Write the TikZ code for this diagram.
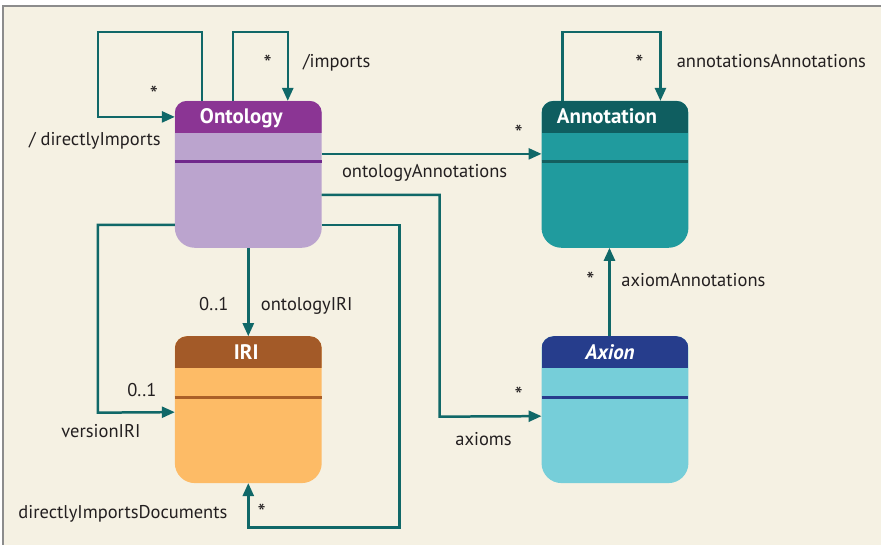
\documentclass[tikz,border=0pt]{standalone}
\usepackage{fontspec}
\setmainfont{PT Sans}
\usetikzlibrary{arrows.meta, positioning, calc}
\definecolor{bgcream}{RGB}{245,241,227}
\definecolor{framegrey}{RGB}{140,140,140}
\definecolor{linkteal}{RGB}{16,104,104}
\definecolor{labelgrey}{RGB}{35,31,32}
\definecolor{ontohead}{RGB}{139,53,148}
\definecolor{ontobody}{RGB}{187,164,206}
\definecolor{ontorule}{RGB}{112,40,140}
\definecolor{annohead}{RGB}{15,94,96}
\definecolor{annobody}{RGB}{32,155,158}
\definecolor{annorule}{RGB}{20,95,95}
\definecolor{irihead}{RGB}{163,90,40}
\definecolor{iribody}{RGB}{253,187,102}
\definecolor{irirule}{RGB}{170,95,40}
\definecolor{axiohead}{RGB}{38,61,140}
\definecolor{axiobody}{RGB}{118,206,217}
\definecolor{axiorule}{RGB}{40,60,140}
\tikzset{
  classbox/.style={minimum width=147pt, minimum height=147pt, inner sep=0pt, outer sep=0pt},
  title/.style={font=\fontsize{21}{24}\selectfont\bfseries, text=white, anchor=base, inner sep=0pt},
  assoc/.style={draw=linkteal, line width=2.5pt, -{Triangle[length=13pt,width=11pt]}},
  role/.style={font=\fontsize{18.5}{21}\selectfont, text=labelgrey, anchor=base, inner sep=0pt},
  mult/.style={font=\fontsize{23}{25}\selectfont, text=labelgrey, inner sep=0pt},
}

\begin{document}
\begin{tikzpicture}[x=1pt, y=-1pt]
% background and frame
\fill[white] (0,0) rectangle (882,545);
\fill[bgcream] (3,6) rectangle (882,545);
\draw[framegrey, line width=1.5pt] (3,545) -- (3,6) -- (882,6);

% classes
\node[classbox] (onto) at (248.5,174.5) {};
\node[classbox] (anno) at (615.5,174.5) {};
\node[classbox] (iri)  at (248.5,410) {};
\node[classbox] (axio) at (615.5,410) {};

\foreach \n/\hd/\bd/\rl in {onto/ontohead/ontobody/ontorule, anno/annohead/annobody/annorule,
                            iri/irihead/iribody/irirule, axio/axiohead/axiobody/axiorule} {
  \fill[\bd, path picture={\fill[\hd, sharp corners] (\n.north west) rectangle ([yshift=-32pt]\n.north east);}]
    (\n.west) [rounded corners=12pt] -- (\n.north west) -- (\n.north east) -- (\n.east)
    [rounded corners=20pt] -- (\n.south east) -- (\n.south west) -- cycle;
  \draw[\rl, line width=2.8pt] ([yshift=-61pt]\n.north west) -- ([yshift=-61pt]\n.north east);
}

\node[title] (onto-t) at ([xshift=-7pt,yshift=-23pt]onto.north) {Ontology};
\node[title] (anno-t) at ([xshift=-8pt,yshift=-23pt]anno.north) {Annotation};
\node[title] (iri-t)  at ([xshift=-2pt,yshift=-23pt]iri.north) {IRI};
\node[title, font=\fontsize{21}{24}\selectfont\bfseries\itshape] (axio-t) at ([xshift=-5pt,yshift=-23pt]axio.north) {Axion};

% bends
\coordinate (dimp)  at (98,32);
\coordinate (imp)   at (288,32);
\coordinate (aa)    at (661,32);
\coordinate (axb)   at (440,417);
\coordinate (vb)    at (98,413);
\coordinate (didb)  at (400,528);

% associations
\draw[assoc] ([xshift=-46.5pt]onto.north) |- (dimp) |- ([yshift=-16pt]onto.north west);
\draw[assoc] ([xshift=-15.5pt]onto.north) |- (imp) -- ([xshift=39.5pt]onto.north);
\draw[assoc] ([xshift=-52.5pt]anno.north) |- (aa) -- ([xshift=45.5pt]anno.north);
\draw[assoc] ([yshift=-53pt]onto.north east) -- ([yshift=-53pt]anno.north west);
\draw[assoc] ([yshift=-94pt]onto.north east) -| (axb) -- ([yshift=-80pt]axio.north west);
\draw[assoc] ([xshift=-5.5pt]axio.north) -- ([xshift=-5.5pt]anno.south);
\draw[assoc] (onto.south) -- (iri.north);
\draw[assoc] ([yshift=-124pt]onto.north west) -| (vb) -- ([yshift=-76pt]iri.north west);
\draw[assoc] ([yshift=-124pt]onto.north east) -| (didb) -| (iri.south);

% roles and multiplicities
\node[mult] (m-dimp) at (154,94) {*};
\node[role] (r-dimp) at (95,146) {/ directlyImports};
\node[mult] (m-imp) at (268,63) {*};
\node[role] (r-imp) at (337,68) {/imports};
\node[mult] (m-aa) at (640,63) {*};
\node[role] (r-aa) at (772,68) {annotationsAnnotations};
\node[mult] (m-oa) at (519,133) {*};
\node[role] (r-oa) at (425,178) {ontologyAnnotations};
\node[mult] (m-ax) at (519,396) {*};
\node[role] (r-ax) at (484,446) {axioms};
\node[mult] (m-axa) at (591,281) {*};
\node[role] (r-axa) at (694,287) {axiomAnnotations};
\node[role] (m-oiri) at (214,311) {0..1};
\node[role] (r-oiri) at (307,311) {ontologyIRI};
\node[role] (m-viri) at (142,397) {0..1};
\node[role] (r-viri) at (101,438) {versionIRI};
\node[mult] (m-did) at (262,513) {*};
\node[role] (r-did) at (123,519) {directlyImportsDocuments};
\end{tikzpicture}
\end{document}
